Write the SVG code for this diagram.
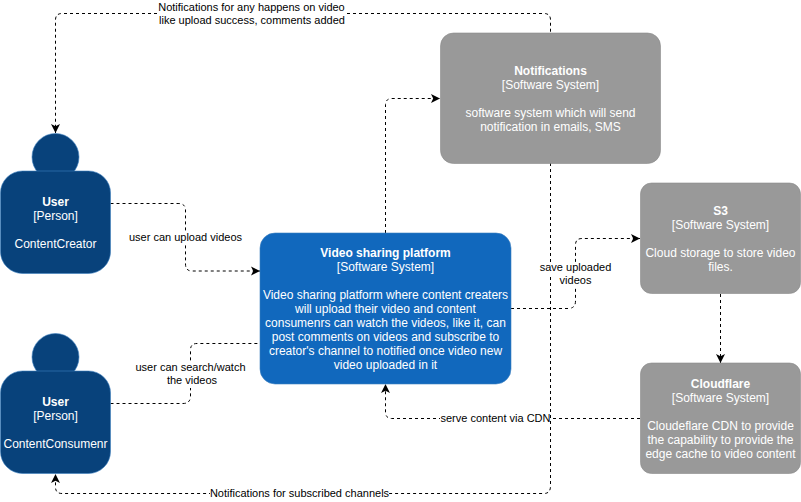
<svg xmlns="http://www.w3.org/2000/svg" width="801" height="502" viewBox="0 0 801 502">
<style>
text{font-family:"Liberation Sans",Arial,sans-serif;font-size:12px;text-anchor:middle}
.w{fill:#fff}
.b{font-weight:bold}
.l{font-size:11px;fill:#000}
.bg{fill:#fff}
.person{fill:#08427b;stroke:#3c7fc0;stroke-width:.6}
.sys{fill:#1168bd;stroke:#3c7fc0;stroke-width:.6}
.ext{fill:#999;stroke:#8a8a8a;stroke-width:.6}
.c{fill:none;stroke:#000;stroke-dasharray:3 3;stroke-width:1}
</style>
<defs>
<marker id="a" markerUnits="userSpaceOnUse" markerWidth="12" markerHeight="10" refX="9" refY="5" orient="auto"><path d="M0 0.5L9 5L0 9.500L2.200 5Z" fill="#000"/></marker>
</defs>
<rect width="801" height="502" fill="#fff"/>
<g id="connectors">
<path class="c" marker-end="url(#a)" d="M157 13.500H62Q55.500 13.500 55.500 20V133"/>
<path class="c" d="M347 13.500H544Q550.500 13.500 550.500 20V33"/>
<path class="c" marker-end="url(#a)" d="M550.500 163V486Q550.500 493.500 544 493.500H62Q55.500 493.500 55.500 487V474"/>
<path class="c" marker-end="url(#a)" d="M110.500 203.500H178Q185.500 203.500 185.500 210V264Q185.500 271 192 271H260"/>
<path class="c" d="M110.500 403.500H183Q190.500 403.500 190.500 396V350Q190.500 343.500 197 343.500H260"/>
<path class="c" marker-end="url(#a)" d="M385.500 233V105Q385.500 98.500 392 98.500H440"/>
<path class="c" marker-end="url(#a)" d="M511 308.500H568Q575.500 308.500 575.500 301V245Q575.500 238.500 582 238.500H640"/>
<path class="c" marker-end="url(#a)" d="M720.500 294V363"/>
<path class="c" marker-end="url(#a)" d="M640 418.500H392Q385.500 418.500 385.500 412V384"/>
</g>
<g id="user-creator">
<circle class="person" cx="55.500" cy="157" r="23.500"/>
<rect class="person" x="0.500" y="171" width="110" height="102.500" rx="22"/>
<text class="w b" x="55.500" y="206">User</text>
<text class="w" x="55.500" y="220">[Person]</text>
<text class="w" x="55.500" y="248">ContentCreator</text>
</g>
<g id="user-consumer">
<circle class="person" cx="55.500" cy="357" r="23.500"/>
<rect class="person" x="0.500" y="371" width="110" height="102.500" rx="22"/>
<text class="w b" x="55.500" y="406">User</text>
<text class="w" x="55.500" y="420">[Person]</text>
<text class="w" x="55.500" y="448">ContentConsumenr</text>
</g>
<g id="video-platform">
<rect class="sys" x="260" y="233" width="251" height="151" rx="15"/>
<text class="w b" x="385.500" y="257">Video sharing platform</text>
<text class="w" x="385.500" y="271">[Software System]</text>
<text class="w" x="385.500" y="299">Video sharing platform where content creaters</text>
<text class="w" x="385.500" y="313">will upload their video and content</text>
<text class="w" x="385.500" y="327">consumenrs can watch the videos, like it, can</text>
<text class="w" x="385.500" y="341">post comments on videos and subscribe to</text>
<text class="w" x="385.500" y="355">creator's channel to notified once video new</text>
<text class="w" x="385.500" y="369">video uploaded in it</text>
</g>
<g id="notifications">
<rect class="ext" x="440.500" y="33" width="220" height="130.500" rx="13"/>
<text class="w b" x="550.500" y="75">Notifications</text>
<text class="w" x="550.500" y="89">[Software System]</text>
<text class="w" x="550.500" y="117">software system which will send</text>
<text class="w" x="550.500" y="131">notification in emails, SMS</text>
</g>
<g id="s3">
<rect class="ext" x="640.500" y="183" width="160" height="110.500" rx="11"/>
<text class="w b" x="720.500" y="215">S3</text>
<text class="w" x="720.500" y="229">[Software System]</text>
<text class="w" x="720.500" y="257">Cloud storage to store video</text>
<text class="w" x="720.500" y="271">files.</text>
</g>
<g id="cloudflare">
<rect class="ext" x="640.500" y="363" width="160" height="110.500" rx="11"/>
<text class="w b" x="720.500" y="388">Cloudflare</text>
<text class="w" x="720.500" y="402">[Software System]</text>
<text class="w" x="720.500" y="430">Cloudeflare CDN to provide</text>
<text class="w" x="720.500" y="444">the capability to provide the</text>
<text class="w" x="720.500" y="458">edge cache to video content</text>
</g>
<g id="labels">
<rect class="bg" x="129" y="232" width="113" height="13"/>
<text class="l" x="185.500" y="241">user can upload videos</text>
<rect class="bg" x="136" y="362" width="110" height="13"/>
<rect class="bg" x="167" y="375" width="50" height="13"/>
<text class="l" x="190.500" y="371">user can search/watch</text>
<text class="l" x="192" y="384">the videos</text>
<rect class="bg" x="540" y="262" width="72" height="13"/>
<rect class="bg" x="559" y="275" width="33" height="13"/>
<text class="l" x="575.500" y="271">save uploaded</text>
<text class="l" x="575.500" y="284">videos</text>
<rect class="bg" x="440" y="411" width="110" height="14"/>
<text class="l" x="495.500" y="422">serve content via CDN</text>
<rect class="bg" x="210" y="487" width="179" height="13"/>
<text class="l" x="299.500" y="497">Notifications for subscribed channels</text>
<text class="l" x="251.500" y="11">Notifications for any happens on video</text>
<text class="l" x="252" y="24">like upload success, comments added</text>
</g>
</svg>
